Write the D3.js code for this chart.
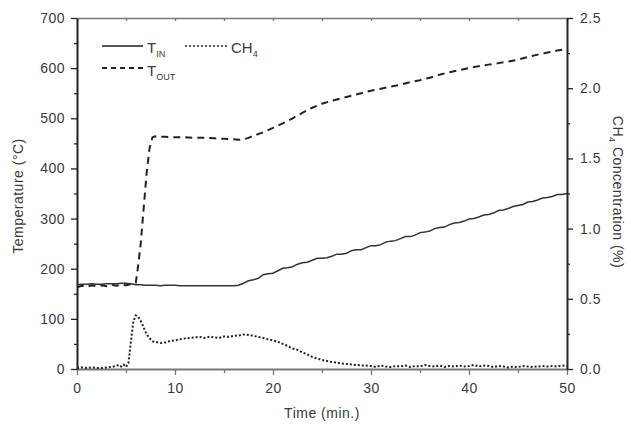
<!DOCTYPE html>
<html><head><meta charset="utf-8">
<script src="https://cdn.jsdelivr.net/npm/d3@7"></script>
<style>
body{margin:0;background:#fff;}
text{font-family:"Liberation Sans",Arial,sans-serif;}
</style></head>
<body><svg id="c" width="631" height="425"></svg>
<script>
// ---- data ----
const tinTime = [0,0.5,1,1.5,2,2.5,3,3.5,4,4.5,5,5.5,6,6.5,7,7.5,8,8.5,9,9.5,10,10.5,11,11.5,12,12.5,13,13.5,14,14.5,15,15.5,16,16.5,17,17.5,18,18.5,19,19.5,20,20.5,21,21.5,22,22.5,23,23.5,24,24.5,25,25.5,26,26.5,27,27.5,28,28.5,29,29.5,30,30.5,31,31.5,32,32.5,33,33.5,34,34.5,35,35.5,36,36.5,37,37.5,38,38.5,39,39.5,40,40.5,41,41.5,42,42.5,43,43.5,44,44.5,45,45.5,46,46.5,47,47.5,48,48.5,49,49.5,50];
const tinVal = [168,169,169,170,169,169,170,170,170,171,171,170,168,168,167,167,167,166,167,167,167,166,166,166,166,166,166,166,166,166,166,166,166,167,171,176,178,181,188,190,191,196,201,202,204,209,212,213,217,221,221,222,225,229,229,231,236,238,238,242,246,246,248,253,255,256,260,264,264,267,272,273,275,280,282,283,288,291,292,295,299,300,303,307,308,311,316,317,320,324,326,328,333,334,337,341,342,344,348,348,350];

const toutTime = [0,0.5,1,1.5,2,2.5,3,3.5,4,4.5,5,5.5,6,6.2,6.5,6.8,7.1,7.4,7.7,8,9,10,11,12,13,14,15,16,16.5,17,17.5,18,19,20,21,22,23,24,25,26,27,28,29,30,31,32,33,34,35,36,37,38,39,40,41,42,43,44,45,46,47,48,49,50];
const toutVal = [163,166,164,167,165,167,165,168,166,168,167,169,172,200,250,320,390,440,462,464,463,462,462,461,461,460,459,458,457,458,461,465,472,481,490,500,511,521,529,535,540,545,550,555,559,563,567,572,576,581,587,592,596,600,604,607,610,613,617,622,627,631,635,638];

const ch4Time = [0,0.5,1,1.5,2,2.5,3,3.5,4,4.25,4.5,4.75,5,5.25,5.5,5.75,6,6.25,6.5,6.75,7,7.25,7.5,7.75,8,8.5,9,9.5,10,10.5,11,11.5,12,12.5,13,13.5,14,14.5,15,15.5,16,16.5,17,17.5,18,18.5,19,19.5,20,20.5,21,21.5,22,22.5,23,23.5,24,24.5,25,25.5,26,26.5,27,27.5,28,28.5,29,29.5,30,30.5,31,31.5,32,32.5,33,33.5,34,34.5,35,35.5,36,36.5,37,37.5,38,38.5,39,39.5,40,40.5,41,41.5,42,42.5,43,43.5,44,44.5,45,45.5,46,46.5,47,47.5,48,48.5,49,49.5,50];
const ch4Val = [0.007,0.011,0.007,0.011,0.007,0.007,0.011,0.014,0.021,0.029,0.018,0.032,0.014,0.043,0.196,0.339,0.382,0.371,0.343,0.304,0.264,0.232,0.211,0.196,0.193,0.186,0.189,0.2,0.204,0.211,0.218,0.221,0.225,0.229,0.221,0.229,0.225,0.221,0.232,0.229,0.236,0.239,0.246,0.243,0.236,0.229,0.221,0.211,0.204,0.193,0.179,0.164,0.146,0.136,0.118,0.104,0.086,0.075,0.064,0.057,0.05,0.046,0.039,0.036,0.032,0.029,0.025,0.025,0.021,0.014,0.025,0.018,0.014,0.021,0.018,0.025,0.014,0.021,0.018,0.029,0.021,0.018,0.025,0.014,0.021,0.018,0.025,0.018,0.021,0.029,0.018,0.025,0.021,0.014,0.021,0.018,0.011,0.018,0.014,0.021,0.018,0.014,0.018,0.021,0.018,0.021,0.018,0.025,0.021];

const xTicks = [0,10,20,30,40,50];
const xMinor = [5,15,25,35,45];
const yLTicks = [0,100,200,300,400,500,600,700];
const yLMinor = [50,150,250,350,450,550,650];
const yRTicks = [0,0.5,1.0,1.5,2.0,2.5];
const yRMinor = [0.25,0.75,1.25,1.75,2.25];

// ---- layout ----
const svg = d3.select("#c");
const L=77, R=567, T=18, B=369;
const TXT = "#3a3a3a";
const x = d3.scaleLinear().domain([0,50]).range([L,R]);
const yL = d3.scaleLinear().domain([0,700]).range([B,T]);
const yR = d3.scaleLinear().domain([0,2.5]).range([B,T]);

function styleAxis(g, color, w){
  g.select(".domain").attr("stroke",color).attr("stroke-width",w);
  g.selectAll(".tick line").attr("stroke",color).attr("stroke-width",1.3);
  g.selectAll("text").style("font-size","14px").style("letter-spacing","0.5px").attr("fill",TXT);
}

// top axis
const gTop = svg.append("g").attr("transform",`translate(0,${T})`)
  .call(d3.axisTop(x).tickValues(xTicks.concat(xMinor)).tickSize(-3).tickSizeOuter(0).tickFormat(""));
styleAxis(gTop,"#777",1.6);

// bottom axis
const gBot = svg.append("g").attr("transform",`translate(0,${B})`)
  .call(d3.axisBottom(x).tickValues(xTicks).tickSize(6).tickPadding(8).tickSizeOuter(0).tickFormat(d3.format("d")));
svg.append("g").attr("transform",`translate(0,${B})`)
  .call(d3.axisBottom(x).tickValues(xMinor).tickSize(4).tickFormat("")).call(g=>{g.select(".domain").remove(); g.selectAll("line").attr("stroke","#777").attr("stroke-width",1.3);});
styleAxis(gBot,"#777",2);

// left axis
const gL = svg.append("g").attr("transform",`translate(${L},0)`)
  .call(d3.axisLeft(yL).tickValues(yLTicks).tickSize(6).tickPadding(6).tickSizeOuter(0).tickFormat(d3.format("d")));
svg.append("g").attr("transform",`translate(${L},0)`)
  .call(d3.axisLeft(yL).tickValues(yLMinor).tickSize(3).tickFormat("")).call(g=>{g.select(".domain").remove(); g.selectAll("line").attr("stroke","#222").attr("stroke-width",1.3);});
styleAxis(gL,"#222",2);

// right axis
const gR = svg.append("g").attr("transform",`translate(${R},0)`)
  .call(d3.axisRight(yR).tickValues(yRTicks).tickSize(6).tickPadding(7).tickSizeOuter(0).tickFormat(d3.format(".1f")));
svg.append("g").attr("transform",`translate(${R},0)`)
  .call(d3.axisRight(yR).tickValues(yRMinor).tickSize(3).tickFormat("")).call(g=>{g.select(".domain").remove(); g.selectAll("line").attr("stroke","#222").attr("stroke-width",1.3);});
styleAxis(gR,"#222",2);

// lines
const lineL = d3.line().x(d=>x(d[0])).y(d=>yL(d[1]));
const lineR = d3.line().x(d=>x(d[0])).y(d=>yR(d[1]));
svg.append("path").datum(ch4Time.map((t,i)=>[t,ch4Val[i]])).attr("d",lineR)
  .attr("fill","none").attr("stroke","#222").attr("stroke-width",2).attr("stroke-dasharray","2,2");
svg.append("path").datum(toutTime.map((t,i)=>[t,toutVal[i]])).attr("d",lineL)
  .attr("fill","none").attr("stroke","#222").attr("stroke-width",2).attr("stroke-dasharray","7,5");
svg.append("path").datum(tinTime.map((t,i)=>[t,tinVal[i]])).attr("d",lineL)
  .attr("fill","none").attr("stroke","#333").attr("stroke-width",1.5);

// legend
const lg = svg.append("g");
lg.append("line").attr("x1",102).attr("x2",143).attr("y1",46).attr("y2",46).attr("stroke","#555").attr("stroke-width",2);
lg.append("line").attr("x1",102).attr("x2",143).attr("y1",68).attr("y2",68).attr("stroke","#222").attr("stroke-width",2).attr("stroke-dasharray","5,4");
lg.append("line").attr("x1",185).attr("x2",227).attr("y1",46).attr("y2",46).attr("stroke","#222").attr("stroke-width",1.6).attr("stroke-dasharray","2,2");
function sub(xp,yp,main,s){
  const t = lg.append("text").attr("x",xp).attr("y",yp).attr("fill",TXT).style("font-size","15px");
  t.append("tspan").text(main);
  t.append("tspan").attr("dy",4).style("font-size","9px").text(s);
}
sub(147,53,"T","IN");
sub(147,76,"T","OUT");
sub(231,53,"CH","4");

// axis titles
svg.append("text").attr("x",322).attr("y",418).attr("text-anchor","middle").attr("fill",TXT)
  .style("font-size","14px").style("letter-spacing","0.5px").text("Time (min.)");
svg.append("text").attr("transform","translate(23,196) rotate(-90)").attr("text-anchor","middle").attr("fill",TXT)
  .style("font-size","14px").style("letter-spacing","0.5px").text("Temperature (°C)");
const rt = svg.append("text").attr("transform","translate(613,192) rotate(90)").attr("text-anchor","middle").attr("fill",TXT)
  .style("font-size","14px").style("letter-spacing","0.5px");
rt.append("tspan").text("CH");
rt.append("tspan").attr("dy",4).style("font-size","9px").text("4");
rt.append("tspan").attr("dy",-4).text(" Concentration (%)");
</script></body></html>
